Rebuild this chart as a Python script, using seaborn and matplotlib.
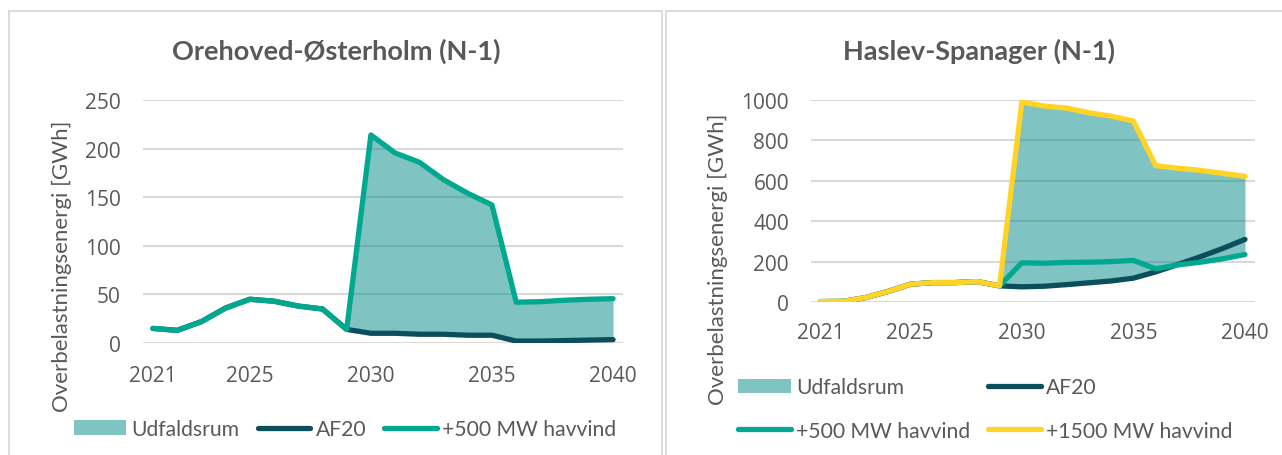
import numpy as np
import pandas as pd
import seaborn as sns
import matplotlib
matplotlib.use("Agg")
import matplotlib.pyplot as plt
from matplotlib.patches import Patch, Rectangle
from matplotlib.lines import Line2D

# ---- data ---------------------------------------------------------------
years = list(range(2021, 2041))
xtick_years = [2021, 2025, 2030, 2035, 2040]

# Orehoved-Østerholm (N-1)
oe_af20 = [15, 13, 22, 36, 45, 43, 38, 35, 14, 10, 10, 9, 9, 8, 8, 2, 2, 2.5, 3, 3.5]
oe_500 = [15, 13, 22, 36, 45, 43, 38, 35, 14, 214, 195.5, 186, 168, 154, 142, 42, 42.5, 44, 45, 45.6]
oe_yticks = [0, 50, 100, 150, 200, 250]

# Haslev-Spanager (N-1)
hs_af20 = [2, 3, 22, 52, 88, 96, 96, 101, 80, 75, 78, 86, 95, 104, 118, 149, 186, 224, 265, 310]
hs_500 = [2, 3, 22, 52, 88, 96, 96, 101, 80, 194, 192, 196, 197, 200, 206, 164, 184, 197, 214, 235]
hs_1500 = [2, 3, 22, 52, 88, 96, 96, 101, 80, 990, 970, 960, 937, 920, 896, 675, 662, 652, 637, 622]
hs_yticks = [0, 200, 400, 600, 800, 1000]

titles = ["Orehoved-Østerholm (N-1)", "Haslev-Spanager (N-1)"]
ylabel = "Overbelastningsenergi [GWh]"
lbl_fill = "Udfaldsrum"
lbl_af20 = "AF20"
lbl_500 = "+500 MW havvind"
lbl_1500 = "+1500 MW havvind"

# ---- style --------------------------------------------------------------
sns.set_theme(style="white")
plt.rcParams["font.family"] = ["Lato", "DejaVu Sans"]
NUM_FONT = ["Open Sans", "DejaVu Sans"]

TXT = "#595959"
GRID = "#D9D9D9"
C_FILL = "#018989"
C_AF20 = "#0B4F5C"
C_500 = "#00A88F"
C_1500 = "#FFD426"
LW = 3.8

W, H = 1282, 456
fig = plt.figure(figsize=(W / 100, H / 100), dpi=100)

# chart frames
for x0, x1 in [(9, 662), (666, 1290)]:
    fig.patches.append(Rectangle((x0 / W, -0.1), (x1 - x0) / W, 1.1 - 11.5 / H,
                                 transform=fig.transFigure, fill=False,
                                 edgecolor=GRID, linewidth=1.3, zorder=0))


def px_axes(l, r, t, b):
    return fig.add_axes([l / W, 1 - b / H, (r - l) / W, (b - t) / H])


def style_axes(ax, ymax, yticks, xpad_px, ypad_px, xlim):
    ax.set_xlim(*xlim)
    ax.set_ylim(0, ymax)
    ax.set_yticks(yticks)
    ax.set_xticks(xtick_years)
    ax.set_xticklabels([str(y) for y in xtick_years])
    for s in ax.spines.values():
        s.set_visible(False)
    ax.grid(axis="y", color=GRID, linewidth=1.5)
    ax.grid(axis="x", visible=False)
    ax.set_axisbelow(True)
    ax.tick_params(axis="both", length=0, labelsize=15, colors=TXT)
    ax.tick_params(axis="x", pad=xpad_px * 0.72)
    ax.tick_params(axis="y", pad=ypad_px * 0.72)
    for t in ax.get_xticklabels() + ax.get_yticklabels():
        t.set_fontfamily(NUM_FONT)
    ax.set_xlabel("")
    ax.set_ylabel("")


def draw_lines(ax, series):
    for vals, col in series:
        sns.lineplot(x=years, y=vals, ax=ax, color=col, linewidth=LW,
                     solid_capstyle="round", solid_joinstyle="round", legend=False)


# ---- left chart ---------------------------------------------------------
axL = px_axes(143, 623, 101, 344)
lo = np.minimum(oe_af20, oe_500)
hi = np.maximum(oe_af20, oe_500)
axL.fill_between(years, lo, hi, color=C_FILL, alpha=0.5, linewidth=0, zorder=1.5)
draw_lines(axL, [(oe_af20, C_AF20), (oe_500, C_500)])
style_axes(axL, 250, oe_yticks, 22, 22, (2020.59, 2040.41))

# ---- right chart --------------------------------------------------------
axR = px_axes(811, 1255, 101, 303)
allR = np.vstack([hs_af20, hs_500, hs_1500])
axR.fill_between(years, allR.min(axis=0), allR.max(axis=0), color=C_FILL, alpha=0.5,
                 linewidth=0, zorder=1.5)
draw_lines(axR, [(hs_af20, C_AF20), (hs_500, C_500), (hs_1500, C_1500)])
style_axes(axR, 1000, hs_yticks, 20, 22, (2020.55, 2040.45))

# ---- titles and axis labels ---------------------------------------------
fig.text(336 / W, 1 - 51 / H, titles[0], ha="center", va="center",
         fontsize=19.5, fontweight="bold", color=TXT)
fig.text(979 / W, 1 - 51 / H, titles[1], ha="center", va="center",
         fontsize=19.5, fontweight="bold", color=TXT)
fig.text(62 / W, 1 - 266 / H, ylabel, rotation=90, ha="center", va="center",
         fontsize=16, color=TXT)
fig.text(718 / W, 1 - 259 / H, ylabel, rotation=90, ha="center", va="center",
         fontsize=16, color=TXT)

# ---- legends ------------------------------------------------------------
h_fill = Patch(facecolor=C_FILL, alpha=0.5, edgecolor="none", label=lbl_fill)
h_af20 = Line2D([], [], color=C_AF20, linewidth=LW, solid_capstyle="round", label=lbl_af20)
h_500 = Line2D([], [], color=C_500, linewidth=LW, solid_capstyle="round", label=lbl_500)
h_1500 = Line2D([], [], color=C_1500, linewidth=LW, solid_capstyle="round", label=lbl_1500)

legkw = dict(frameon=False, fontsize=15.2, labelcolor=TXT, handlelength=2.5,
             handletextpad=0.25, columnspacing=0.85, borderaxespad=0, borderpad=0)
fig.legend(handles=[h_fill, h_af20, h_500], ncol=3, loc="center",
           bbox_to_anchor=(345 / W, 1 - 430 / H), **legkw)
fig.legend(handles=[h_fill, h_500, h_af20, h_1500], ncol=2, loc="center",
           bbox_to_anchor=(985 / W, 1 - 410 / H), labelspacing=1.1, **legkw)

fig.savefig("out.png", dpi=100)
